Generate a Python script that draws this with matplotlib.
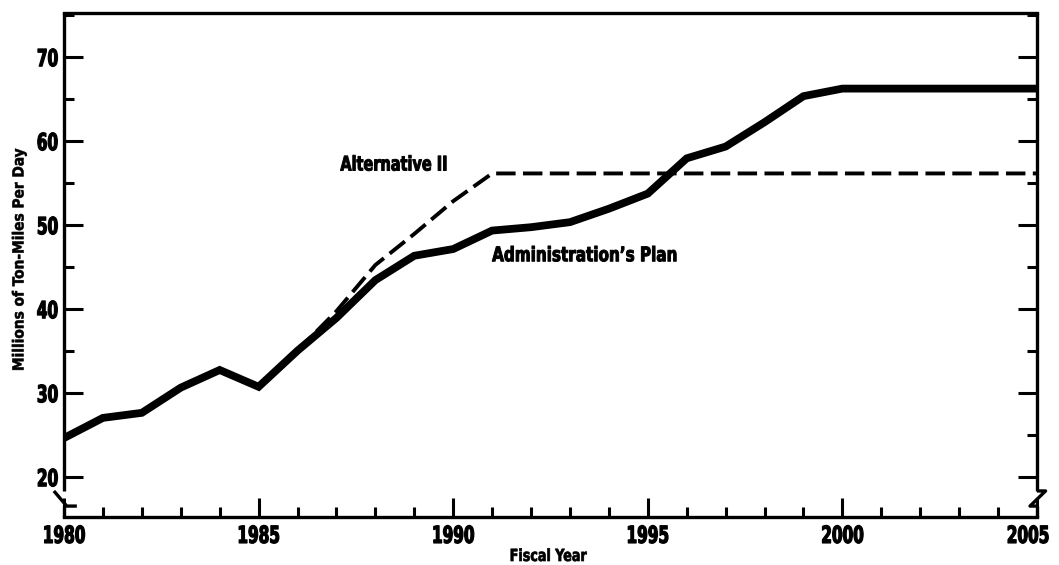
import matplotlib
matplotlib.use("Agg")
import matplotlib.pyplot as plt
import matplotlib.transforms as mtransforms
from matplotlib.patheffects import AbstractPathEffect
from matplotlib.ticker import MultipleLocator

plt.rcParams['font.family'] = ['DejaVu Sans']
plt.rcParams['font.stretch'] = 'condensed'
plt.rcParams['font.weight'] = 'bold'

years_admin = [1980, 1981, 1982, 1983, 1984, 1985, 1986, 1987, 1988, 1989, 1990,
               1991, 1992, 1993, 1994, 1995, 1996, 1997, 1998, 1999, 2000, 2005]
admin_plan = [24.6, 27.0, 27.6, 30.6, 32.7, 30.7, 35.0, 38.9, 43.4, 46.3, 47.1,
              49.3, 49.7, 50.3, 51.9, 53.7, 57.9, 59.3, 62.2, 65.3, 66.2, 66.2]

years_alt = [1986, 1987, 1988, 1989, 1990, 1991, 2005]
alternative_ii = [35.0, 39.7, 45.2, 48.9, 52.8, 56.1, 56.1]

x_major = [1980, 1985, 1990, 1995, 2000, 2005]
y_major = [20, 30, 40, 50, 60, 70]


class Condense(AbstractPathEffect):
    """Squeeze text horizontally (and embolden) to imitate a heavy condensed face."""
    def __init__(self, sx, anchor='center', stroke=0.6):
        super().__init__()
        self.sx = sx
        self.anchor = anchor
        self.stroke = stroke

    def draw_path(self, renderer, gc, tpath, affine, rgbFace=None):
        ext = affine.transform_path(tpath).get_extents()
        if self.anchor == 'right':
            cx = ext.x1
        elif self.anchor == 'left':
            cx = ext.x0
        else:
            cx = 0.5 * (ext.x0 + ext.x1)
        new = affine + mtransforms.Affine2D().translate(-cx, 0).scale(self.sx, 1).translate(cx, 0)
        gc0 = renderer.new_gc()
        gc0.copy_properties(gc)
        gc0.set_linewidth(self.stroke)
        gc0.set_joinstyle('round')
        if rgbFace is not None:
            gc0.set_foreground(rgbFace)
        renderer.draw_path(gc0, tpath, new, rgbFace)
        gc0.restore()


W, H = 1059, 565
fig = plt.figure(figsize=(W / 100, H / 100), dpi=100)
ax = fig.add_axes([64 / W, 1 - 517 / H, (1037 - 64) / W, (517 - 13) / H])

ax.plot(years_admin, admin_plan, color='black', lw=5.6, solid_joinstyle='miter',
        solid_capstyle='butt', zorder=3)
ax.plot(years_alt, alternative_ii, color='black', lw=2.8, dashes=(5.0, 1.9),
        zorder=2)

ymin, ymax = 15.2, 75.2
ax.set_xlim(1980, 2005)
ax.set_ylim(ymin, ymax)

ax.xaxis.set_minor_locator(MultipleLocator(1))
ax.yaxis.set_minor_locator(MultipleLocator(5))
ax.set_xticks(x_major)
ax.set_xticklabels([str(v) for v in x_major])
ax.set_yticks(y_major)
ax.set_yticklabels([str(v) for v in y_major])

ax.tick_params(axis='both', which='major', direction='in', length=14, width=2.2,
               labelsize=17, pad=5)
ax.tick_params(axis='both', which='minor', direction='in', length=7, width=2.2)
ax.tick_params(axis='y', which='both', left=True, right=True)
ax.tick_params(axis='x', which='both', top=False)
ax.tick_params(axis='y', which='major', pad=4)

for lbl in ax.get_xticklabels():
    lbl.set_path_effects([Condense(0.72, 'center', 0.9)])
for lbl in ax.get_yticklabels():
    lbl.set_path_effects([Condense(0.72, 'right', 0.9)])

# last x label sits slightly left, as in the original
last = ax.get_xticklabels()[-1]
last.set_transform(last.get_transform() +
                   mtransforms.ScaledTranslation(-9 / 100, 0, fig.dpi_scale_trans))

for s in ['top', 'bottom']:
    ax.spines[s].set_linewidth(2.4)
for s in ['left', 'right']:
    ax.spines[s].set_visible(False)

# Vertical axis lines with break marks
yb_top, yb_bot = 18.3, 16.5
kw = dict(color='black', lw=2.4, clip_on=False, solid_capstyle='butt', zorder=4)
# left
ax.plot([1980, 1980], [ymax, yb_top], **kw)
ax.plot([1980 - 0.26, 1980 + 0.07, 1980 + 0.33], [yb_top, yb_bot, yb_bot], **kw)
ax.plot([1980, 1980], [yb_bot, ymin], **kw)
# right
ax.plot([2005, 2005], [ymax, yb_top], **kw)
ax.plot([2005, 2005 + 0.22, 2005 - 0.18, 2005], [yb_top, yb_top, yb_bot, yb_bot], **kw)
ax.plot([2005, 2005], [yb_bot, ymin], **kw)

t1 = ax.text(1987.1, 57.1, "Alternative II", fontsize=14.5, fontweight='bold',
             ha='left', va='center')
t1.set_path_effects([Condense(0.8, 'left', 0.7)])
t2 = ax.text(1991.0, 46.3, "Administration\u2019s Plan", fontsize=14.5,
             fontweight='bold', ha='left', va='center')
t2.set_path_effects([Condense(0.84, 'left', 0.7)])

t3 = fig.text(548 / W, 1 - 556 / H, "Fiscal Year", fontsize=12, fontweight='bold',
              ha='center', va='center')
t3.set_path_effects([Condense(0.85, 'center', 0.5)])
t4 = fig.text(19 / W, 1 - 260 / H, "Millions of Ton-Miles Per Day", fontsize=11,
              fontweight='bold', ha='center', va='center', rotation=90)
t4.set_path_effects([Condense(1.0, 'center', 0.4)])

fig.savefig("out.png", dpi=100)
